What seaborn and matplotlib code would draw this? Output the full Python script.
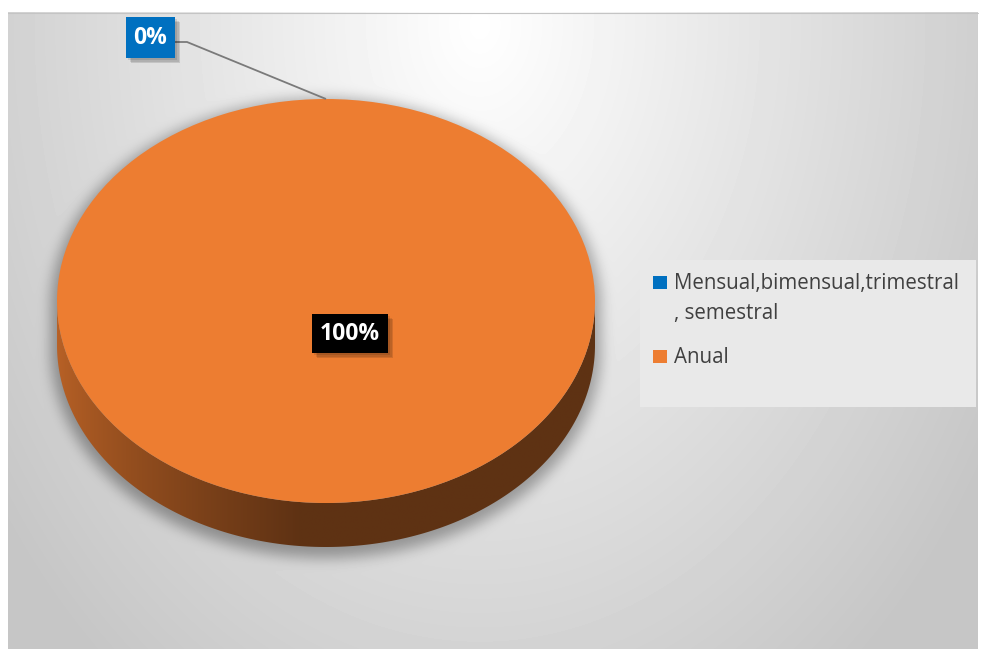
import numpy as np
import matplotlib
matplotlib.use("Agg")
import matplotlib.pyplot as plt
import seaborn as sns
from matplotlib.patches import Polygon, Rectangle
from matplotlib.colors import to_rgb

# ---------------- data ----------------
categories = ["Mensual,bimensual,trimestral, semestral", "Anual"]
values = [0, 100]
colors = ["#0070c0", "#ed7d31"]

# ---------------- style ----------------
sns.set_theme(style="white")
plt.rcParams['font.family'] = ['Open Sans', 'DejaVu Sans']

W, H = 981, 649
fig = plt.figure(figsize=(W / 100, H / 100), dpi=100)
fig.patch.set_facecolor('white')

bg = fig.add_axes([0, 0, 1, 1])
bg.set_xlim(0, W)
bg.set_ylim(H, 0)
bg.axis('off')

# pie geometry (pixels)
cx, cy, rx, ry, depth = 326, 301, 269, 202, 44

# ---------------- background gradient + soft shadow ----------------
x0c, y0c, x1c, y1c = 8, 12, 978, 649
yy, xx = np.mgrid[y0c:y1c, x0c:x1c] + 0.5
d = np.sqrt(((xx - 480) / 520) ** 2 + ((yy - 25) / 720) ** 2)
val = 255 - np.minimum(50 * d, 57)


def box_blur(a, r):
    k = 2 * r + 1
    p = np.pad(a, r, mode='edge')
    c = np.cumsum(p, axis=0)
    c = np.vstack([np.zeros((1, c.shape[1])), c])
    a1 = (c[k:] - c[:-k]) / k
    c = np.cumsum(a1, axis=1)
    c = np.hstack([np.zeros((c.shape[0], 1)), c])
    return (c[:, k:] - c[:, :-k]) / k


s, g = 5, 6
e1 = ((xx - cx) / (rx + g)) ** 2 + ((yy - (cy + s)) / (ry + g)) ** 2 <= 1
e2 = ((xx - cx) / (rx + g)) ** 2 + ((yy - (cy + s + depth)) / (ry + g)) ** 2 <= 1
rr = (np.abs(xx - cx) <= rx + g) & (yy >= cy + s) & (yy <= cy + s + depth)
sil = (e1 | e2 | rr).astype(float)
for _ in range(3):
    sil = box_blur(sil, 6)
val = val - 70 * sil
val = np.clip(val, 0, 255)
bg.imshow(val, extent=(x0c, x1c, y1c, y0c), cmap='gray', vmin=0, vmax=255,
          aspect='auto', zorder=0, interpolation='bilinear')
bg.plot([x0c, x1c], [y0c + 0.5, y0c + 0.5], color='#c4c4c4', lw=0.8, zorder=1)

# ---------------- pie ----------------
dd = depth / ry
pax = fig.add_axes([(cx - rx) / W, (H - (cy + ry + depth)) / H,
                    2 * rx / W, (2 * ry + depth) / H])
wedges, _ = pax.pie(values, colors=colors, startangle=90, counterclock=True,
                    radius=1, center=(0, 0), wedgeprops=dict(linewidth=0))
for w in wedges:
    w.set_zorder(5)
pax.set_xlim(-1, 1)
pax.set_ylim(-1 - dd, 1)
pax.set_aspect('auto')
pax.axis('off')

# side (extrusion) of each wedge, shaded
for w, col in zip(wedges, colors):
    t1, t2 = w.theta1, w.theta2
    for k in (-360, 0, 360):
        lo, hi = max(t1, 180 + k), min(t2, 360 + k)
        if hi <= lo:
            continue
        th = np.radians(np.linspace(lo, hi, 200))
        top = np.column_stack([np.cos(th), np.sin(th)])
        bot = top[::-1] - np.array([0, dd])
        poly = Polygon(np.vstack([top, bot]), closed=True, facecolor='none',
                       edgecolor='none')
        pax.add_patch(poly)
        xs = np.linspace(-1, 1, 400)
        t = np.clip((xs + 1) / 0.9, 0, 1)
        f = 0.78 - 0.38 * t ** 0.75
        base = np.array(to_rgb(col))
        img = (f[None, :, None] * base[None, None, :])
        img = np.repeat(img, 2, axis=0)
        im = pax.imshow(img, extent=(-1, 1, -1 - dd, 0.02), aspect='auto',
                        zorder=3, interpolation='bilinear')
        im.set_clip_path(poly)
pax.set_xlim(-1, 1)
pax.set_ylim(-1 - dd, 1)

# ---------------- overlay (labels, legend) ----------------
ov = fig.add_axes([0, 0, 1, 1])
ov.set_xlim(0, W)
ov.set_ylim(H, 0)
ov.axis('off')
ov.patch.set_alpha(0)


def label_box(x0, y0, x1, y1, fc, txt):
    for i, a in enumerate([0.10, 0.10, 0.12]):
        o = 2 + i * 1.5
        ov.add_patch(Rectangle((x0 + o, y0 + o), x1 - x0, y1 - y0,
                               facecolor='black', alpha=a, lw=0, zorder=8))
    ov.add_patch(Rectangle((x0, y0), x1 - x0, y1 - y0, facecolor=fc,
                           lw=0, zorder=9))
    ov.text((x0 + x1) / 2, (y0 + y1) / 2 + 1, txt, color='white',
            fontsize=16.5, fontweight='bold', ha='center', va='center',
            zorder=10)


# leader line for the 0% slice (from label to the slice's mid-angle on the rim)
mid = np.radians((wedges[0].theta1 + wedges[0].theta2) / 2)
tip_disp = pax.transData.transform((np.cos(mid), np.sin(mid)))
tip = ov.transData.inverted().transform(tip_disp)
ov.plot([175, 187, tip[0]], [42, 42, tip[1]], color='#7a7a7a', lw=1.3,
        zorder=7, solid_capstyle='butt')

label_box(126, 17, 175, 58, colors[0], f"{values[0]:.0f}%")
label_box(312, 314, 388, 353, 'black', f"{values[1]:.0f}%")

# legend
bg.add_patch(Rectangle((640, 260), 336, 147, facecolor='#e9e9e9', lw=0,
                       zorder=2))


def wrap(label):
    if len(label) > 28 and ',' in label:
        i = label.rfind(',')
        return [label[:i], label[i:]]
    return [label]


row_baselines = [289, 363]
for cat, col, yb in zip(categories, colors, row_baselines):
    ov.add_patch(Rectangle((653, yb - 13.5), 13.5, 13.5, facecolor=col,
                           lw=0, zorder=3))
    for j, line in enumerate(wrap(cat)):
        ov.text(674, yb + 30 * j, line, color='#404040', fontsize=14.8,
                ha='left', va='baseline', zorder=3)

fig.savefig('out.png', dpi=100, facecolor='white')
